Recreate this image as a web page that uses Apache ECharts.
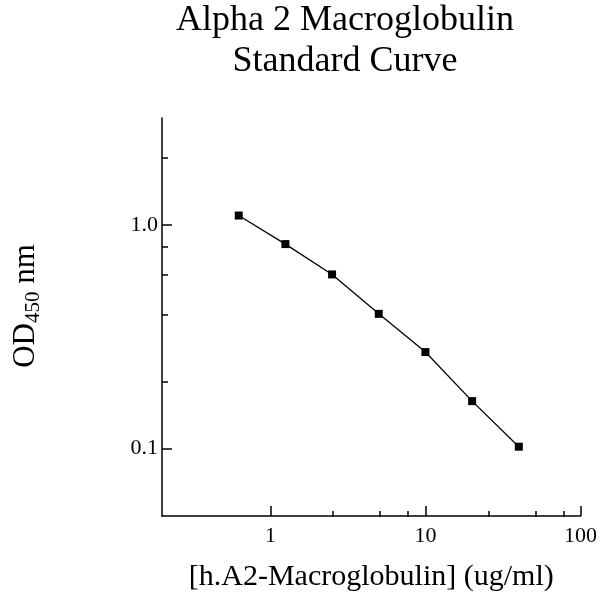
<!DOCTYPE html>
<html>
<head>
<meta charset="utf-8">
<script src="https://cdn.jsdelivr.net/npm/echarts@6/dist/echarts.min.js"></script>
<style>
html,body{margin:0;padding:0;background:#fff;}
#chart{width:600px;height:597px;}
</style>
</head>
<body>
<div id="chart"></div>
<script>
// Data
const concentrations = [0.625, 1.25, 2.5, 5, 10, 20, 40];
const odValues = [1.10, 0.82, 0.60, 0.40, 0.27, 0.163, 0.102];

// Axis ticks
const xMajorTicks = [1, 10, 100];
const xMinorTicks = [2.5, 5, 7.5, 25, 50, 75];
const yMajorTicks = [0.1, 1];
const yMajorLabels = ['0.1', '1.0'];
const yMinorTicks = [0.2, 0.4, 0.6, 0.8, 2];

const titleLines = ['Alpha 2 Macroglobulin', 'Standard Curve'];
const xTitle = '[h.A2-Macroglobulin] (ug/ml)';
const yTitleRich = '{a|OD}{b|450}{a| nm}';

const FONT = '"Liberation Serif", "Times New Roman", serif';

const chart = echarts.init(document.getElementById('chart'), null, {renderer: 'canvas'});

const gridBox = {left: 162, top: 118, right: 17, bottom: 80};
const lineStyle = {color: '#000', width: 1.5};

const option = {
  backgroundColor: '#fff',
  animation: false,
  graphic: [{
    type: 'text',
    x: 345,
    y: 0,
    style: {
      text: titleLines.join('\n'),
      fontFamily: FONT,
      fontSize: 36,
      lineHeight: 41,
      fill: '#000',
      align: 'center',
      verticalAlign: 'top'
    }
  }, {
    type: 'text',
    x: 26,
    y: 306,
    rotation: Math.PI / 2,
    style: {
      text: yTitleRich,
      fill: '#000',
      align: 'center',
      verticalAlign: 'middle',
      rich: {
        a: {fontFamily: FONT, fontSize: 31, lineHeight: 36, fill: '#000', verticalAlign: 'middle'},
        b: {fontFamily: FONT, fontSize: 21, lineHeight: 30, fill: '#000', verticalAlign: 'bottom'}
      }
    }
  }],
  grid: [
    Object.assign({}, gridBox),
    Object.assign({}, gridBox)
  ],
  xAxis: [{
    type: 'log',
    logBase: 10,
    gridIndex: 0,
    min: 0.2,
    max: 100,
    position: 'bottom',
    name: xTitle,
    nameLocation: 'middle',
    nameGap: 46,
    nameTextStyle: {fontFamily: FONT, fontSize: 30, color: '#000', lineHeight: 30},
    axisLine: {show: true, lineStyle: lineStyle},
    axisTick: {show: true, inside: true, length: 10, lineStyle: lineStyle, customValues: xMajorTicks},
    axisLabel: {show: true, margin: 9, fontFamily: FONT, fontSize: 22, color: '#000', customValues: xMajorTicks,
      formatter: v => String(v)},
    splitLine: {show: false},
    minorTick: {show: false}
  }, {
    type: 'log',
    logBase: 10,
    gridIndex: 1,
    min: 0.2,
    max: 100,
    position: 'bottom',
    axisLine: {show: false},
    axisTick: {show: true, inside: true, length: 6, lineStyle: lineStyle, customValues: xMinorTicks},
    axisLabel: {show: false},
    splitLine: {show: false}
  }],
  yAxis: [{
    type: 'log',
    logBase: 10,
    gridIndex: 0,
    min: 0.05,
    max: 3,
    position: 'left',
    axisLine: {show: true, lineStyle: lineStyle},
    axisTick: {show: true, inside: true, length: 10, lineStyle: lineStyle, customValues: yMajorTicks},
    axisLabel: {show: true, margin: 4, fontFamily: FONT, fontSize: 22, color: '#000', customValues: yMajorTicks,
      formatter: v => {
        const i = yMajorTicks.findIndex(t => Math.abs(t - v) < 1e-9);
        return i >= 0 ? yMajorLabels[i] : '';
      }},
    splitLine: {show: false}
  }, {
    type: 'log',
    logBase: 10,
    gridIndex: 1,
    min: 0.05,
    max: 3,
    position: 'left',
    axisLine: {show: false},
    axisTick: {show: true, inside: true, length: 6, lineStyle: lineStyle, customValues: yMinorTicks},
    axisLabel: {show: false},
    splitLine: {show: false}
  }],
  series: [{
    type: 'line',
    xAxisIndex: 0,
    yAxisIndex: 0,
    data: concentrations.map((c, i) => [c, odValues[i]]),
    symbol: 'rect',
    symbolSize: 8,
    showSymbol: true,
    itemStyle: {color: '#000'},
    lineStyle: {color: '#000', width: 1.3},
    silent: true
  }]
};

chart.setOption(option);
</script>
</body>
</html>
